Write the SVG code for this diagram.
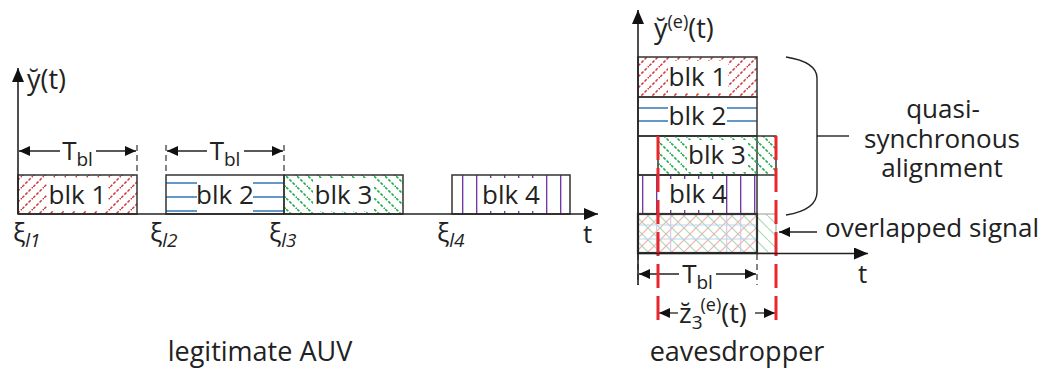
<svg xmlns="http://www.w3.org/2000/svg" width="1047" height="373" viewBox="0 0 1047 373">
<style>
text{font-family:"Open Sans","Noto Sans",sans-serif;fill:#222;font-size:26px;}
.lbl{text-anchor:middle;}
.ax{stroke:#222;stroke-width:1.6;fill:none;}
.blk{stroke:#333;stroke-width:1.5;fill:none;}
.dash{stroke:#333;stroke-width:1.2;stroke-dasharray:6 4;fill:none;}
.dim{stroke:#222;stroke-width:1.3;fill:none;}
.bg{fill:#fff;stroke:none;}
.blue{stroke:#1f6db3;stroke-width:1.4;}
.purple{stroke:#7030a0;stroke-width:1.3;}
.red{stroke:#e8262b;stroke-width:3;stroke-dasharray:24 8;fill:none;}
.sub{font-size:19px;}
.sup{font-size:18px;}
</style>
<defs>
<pattern id="hRed" patternUnits="userSpaceOnUse" width="11" height="11">
<path d="M-3,14 L14,-3" stroke="#d33a3a" stroke-width="1.5" stroke-dasharray="3 1.5"/>
</pattern>
<pattern id="hGreen" patternUnits="userSpaceOnUse" width="11" height="11">
<path d="M-3,-3 L14,14" stroke="#1fae4a" stroke-width="1.6" stroke-dasharray="3 1.5"/>
</pattern>
<pattern id="hRedL" patternUnits="userSpaceOnUse" width="12" height="12">
<path d="M-3,15 L15,-3" stroke="#f0b0b0" stroke-width="1.2"/>
</pattern>
<pattern id="hGreenL" patternUnits="userSpaceOnUse" width="12" height="12">
<path d="M-3,-3 L15,15" stroke="#a8dcb5" stroke-width="1.2"/>
</pattern>
<marker id="ah" viewBox="0 0 10 10" refX="10" refY="5" markerWidth="11" markerHeight="10" markerUnits="userSpaceOnUse" orient="auto" preserveAspectRatio="none">
<path d="M0,0 L10,5 L0,10 z" fill="#111"/>
</marker>
<marker id="axh" viewBox="0 0 10 10" refX="10" refY="5" markerWidth="14" markerHeight="12" markerUnits="userSpaceOnUse" orient="auto" preserveAspectRatio="none">
<path d="M0,0 L10,5 L0,10 z" fill="#111"/>
</marker>
</defs>

<!-- LEFT: legitimate AUV -->
<g id="left-blk1">
<rect x="18" y="175" width="119" height="39" fill="url(#hRed)"/>
<rect class="bg" x="47" y="178" width="61" height="33"/>
<rect class="blk" x="18" y="175" width="119" height="39"/>
<text class="lbl" x="77.5" y="204">blk 1</text>
</g>
<g id="left-blk2">
<g class="blue">
<line x1="166" y1="183" x2="197" y2="183"/><line x1="253" y1="183" x2="284" y2="183"/>
<line x1="166" y1="197" x2="197" y2="197"/><line x1="253" y1="197" x2="284" y2="197"/>
<line x1="166" y1="211" x2="197" y2="211"/><line x1="253" y1="211" x2="284" y2="211"/>
</g>
<rect class="blk" x="166" y="175" width="118" height="39"/>
<text class="lbl" x="225" y="204">blk 2</text>
</g>
<g id="left-blk3">
<rect x="284" y="175" width="119" height="39" fill="url(#hGreen)"/>
<rect class="bg" x="313" y="178" width="61" height="33"/>
<rect class="blk" x="284" y="175" width="119" height="39"/>
<text class="lbl" x="343.5" y="204">blk 3</text>
</g>
<g id="left-blk4">
<g class="purple">
<line x1="462.7" y1="175" x2="462.7" y2="214"/><line x1="476.7" y1="175" x2="476.7" y2="214"/>
<line x1="490.7" y1="175" x2="490.7" y2="178"/><line x1="490.7" y1="211" x2="490.7" y2="214"/>
<line x1="504.7" y1="175" x2="504.7" y2="178"/><line x1="504.7" y1="211" x2="504.7" y2="214"/>
<line x1="518.7" y1="175" x2="518.7" y2="178"/><line x1="518.7" y1="211" x2="518.7" y2="214"/>
<line x1="532.7" y1="175" x2="532.7" y2="178"/><line x1="532.7" y1="211" x2="532.7" y2="214"/>
<line x1="546.7" y1="175" x2="546.7" y2="214"/><line x1="560.7" y1="175" x2="560.7" y2="214"/>
</g>
<rect class="blk" x="452" y="175" width="118" height="39"/>
<text class="lbl" x="511" y="204">blk 4</text>
</g>

<g id="left-axes">
<line class="ax" x1="18" y1="214" x2="18" y2="68" marker-end="url(#axh)"/>
<line class="ax" x1="18" y1="214" x2="598" y2="214" marker-end="url(#axh)"/>
<text x="27" y="89" style="font-size:27px">y&#774;(t)</text>
<text x="583" y="243">t</text>
<text x="13" y="242">ξ<tspan class="sub" dy="5" style="font-style:italic">l1</tspan></text>
<text x="150" y="242">ξ<tspan class="sub" dy="5" style="font-style:italic">l2</tspan></text>
<text x="269" y="242">ξ<tspan class="sub" dy="5" style="font-style:italic">l3</tspan></text>
<text x="437" y="242">ξ<tspan class="sub" dy="5" style="font-style:italic">l4</tspan></text>
<text class="lbl" x="260" y="361" style="font-size:27px">legitimate AUV</text>
</g>

<g id="connectors">
<!-- left T_bl dims -->
<line class="dash" x1="137" y1="145" x2="137" y2="175"/>
<line class="dash" x1="166" y1="145" x2="166" y2="175"/>
<line class="dash" x1="284" y1="145" x2="284" y2="175"/>
<line class="dim" x1="60" y1="151" x2="19" y2="151" marker-end="url(#ah)"/>
<line class="dim" x1="96" y1="151" x2="136" y2="151" marker-end="url(#ah)"/>
<line class="dim" x1="207" y1="151" x2="167" y2="151" marker-end="url(#ah)"/>
<line class="dim" x1="244" y1="151" x2="283" y2="151" marker-end="url(#ah)"/>
<!-- right T_bl dim -->
<line class="dash" x1="638" y1="254" x2="638" y2="285"/>
<line class="dash" x1="757" y1="254" x2="757" y2="285"/>
<line class="dim" x1="679" y1="274" x2="639" y2="274" marker-end="url(#ah)"/>
<line class="dim" x1="716" y1="274" x2="756" y2="274" marker-end="url(#ah)"/>
<!-- z dim -->
<line class="dim" x1="678" y1="313" x2="659" y2="313" marker-end="url(#ah)"/>
<line class="dim" x1="755" y1="313" x2="775" y2="313" marker-end="url(#ah)"/>
<!-- overlapped arrow -->
<line class="dim" x1="817" y1="232" x2="779" y2="232" marker-end="url(#ah)"/>
<!-- brace -->
<path d="M786,57 Q817,62 817,78 L817,192 Q817,210 786,215" stroke="#222" stroke-width="1.4" fill="none"/>
<line x1="817" y1="136" x2="849" y2="136" stroke="#222" stroke-width="1.4"/>
</g>

<text class="lbl" x="77.5" y="160">T<tspan class="sub" dy="6">bl</tspan></text>
<text class="lbl" x="225" y="160">T<tspan class="sub" dy="6">bl</tspan></text>

<!-- RIGHT: eavesdropper -->
<g id="right-blk1">
<rect x="638" y="57" width="119" height="40" fill="url(#hRed)"/>
<rect class="bg" x="668" y="61" width="60" height="32"/>
<rect class="blk" x="638" y="57" width="119" height="40"/>
<text class="lbl" x="697.5" y="86">blk 1</text>
</g>
<g id="right-blk2">
<g class="blue">
<line x1="638" y1="108" x2="668" y2="108"/><line x1="727" y1="108" x2="757" y2="108"/>
<line x1="638" y1="121" x2="668" y2="121"/><line x1="727" y1="121" x2="757" y2="121"/>
</g>
<rect class="blk" x="638" y="97" width="119" height="39"/>
<text class="lbl" x="697.5" y="125">blk 2</text>
</g>
<g id="right-blk3">
<rect class="blk" x="638" y="136" width="119" height="39"/>
<rect x="658" y="136" width="118" height="39" fill="url(#hGreen)"/>
<rect class="bg" x="687" y="140" width="61" height="32"/>
<rect class="blk" x="658" y="136" width="118" height="39"/>
<text class="lbl" x="717" y="164">blk 3</text>
</g>
<g id="right-blk4">
<g class="purple">
<line x1="642.7" y1="175" x2="642.7" y2="214"/><line x1="656.7" y1="175" x2="656.7" y2="214"/>
<line x1="670.7" y1="175" x2="670.7" y2="179"/><line x1="670.7" y1="210" x2="670.7" y2="214"/>
<line x1="684.7" y1="175" x2="684.7" y2="179"/><line x1="684.7" y1="210" x2="684.7" y2="214"/>
<line x1="698.7" y1="175" x2="698.7" y2="179"/><line x1="698.7" y1="210" x2="698.7" y2="214"/>
<line x1="712.7" y1="175" x2="712.7" y2="179"/><line x1="712.7" y1="210" x2="712.7" y2="214"/>
<line x1="726.7" y1="175" x2="726.7" y2="214"/><line x1="740.7" y1="175" x2="740.7" y2="214"/>
<line x1="754.7" y1="175" x2="754.7" y2="214"/>
</g>
<rect class="blk" x="638" y="175" width="119" height="39"/>
<text class="lbl" x="698" y="203">blk 4</text>
</g>
<g id="right-overlap">
<rect x="638" y="214" width="138" height="39" fill="url(#hGreenL)"/>
<rect x="638" y="214" width="119" height="39" fill="url(#hRedL)"/>
<g stroke="#b5d5ee" stroke-width="1.2">
<line x1="638" y1="225" x2="757" y2="225"/><line x1="638" y1="239" x2="757" y2="239"/>
</g>
<g stroke="#d8c4e6" stroke-width="1.1">
<line x1="656.7" y1="214" x2="656.7" y2="253"/><line x1="670.7" y1="214" x2="670.7" y2="253"/>
<line x1="726.7" y1="214" x2="726.7" y2="253"/><line x1="740.7" y1="214" x2="740.7" y2="253"/>
</g>
<rect x="757" y="214" width="19" height="39" fill="none" stroke="#999" stroke-width="1"/>
<rect x="638" y="214" width="119" height="39" fill="none" stroke="#333" stroke-width="2.2"/>
</g>
<g id="right-red">
<line class="red" x1="658" y1="136" x2="658" y2="326"/>
<line class="red" x1="776" y1="136" x2="776" y2="326"/>
</g>
<g id="right-axes">
<line class="ax" x1="638" y1="285" x2="638" y2="10" marker-end="url(#axh)"/>
<line class="ax" x1="638" y1="253.5" x2="868" y2="253.5" marker-end="url(#axh)"/>
<text x="654" y="38" style="font-size:27px">y&#774;<tspan class="sup" dy="-10">(e)</tspan><tspan style="font-size:27px" dy="10">(t)</tspan></text>
<text x="858" y="283">t</text>
</g>
<text class="lbl" x="697.5" y="283">T<tspan class="sub" dy="6">bl</tspan></text>
<text x="679" y="323" style="font-size:27px">z&#774;<tspan class="sub" dy="6">3</tspan><tspan class="sup" dx="-2" dy="-18">(e)</tspan><tspan style="font-size:27px" dy="12">(t)</tspan></text>
<g id="labels">
<text class="lbl" x="943"><tspan x="943" y="118">quasi-</tspan><tspan x="942" y="148">synchronous</tspan><tspan x="942" y="177">alignment</tspan></text>
<text x="825" y="237">overlapped signal</text>
<text class="lbl" x="737" y="361" style="font-size:27px">eavesdropper</text>
</g>
</svg>
